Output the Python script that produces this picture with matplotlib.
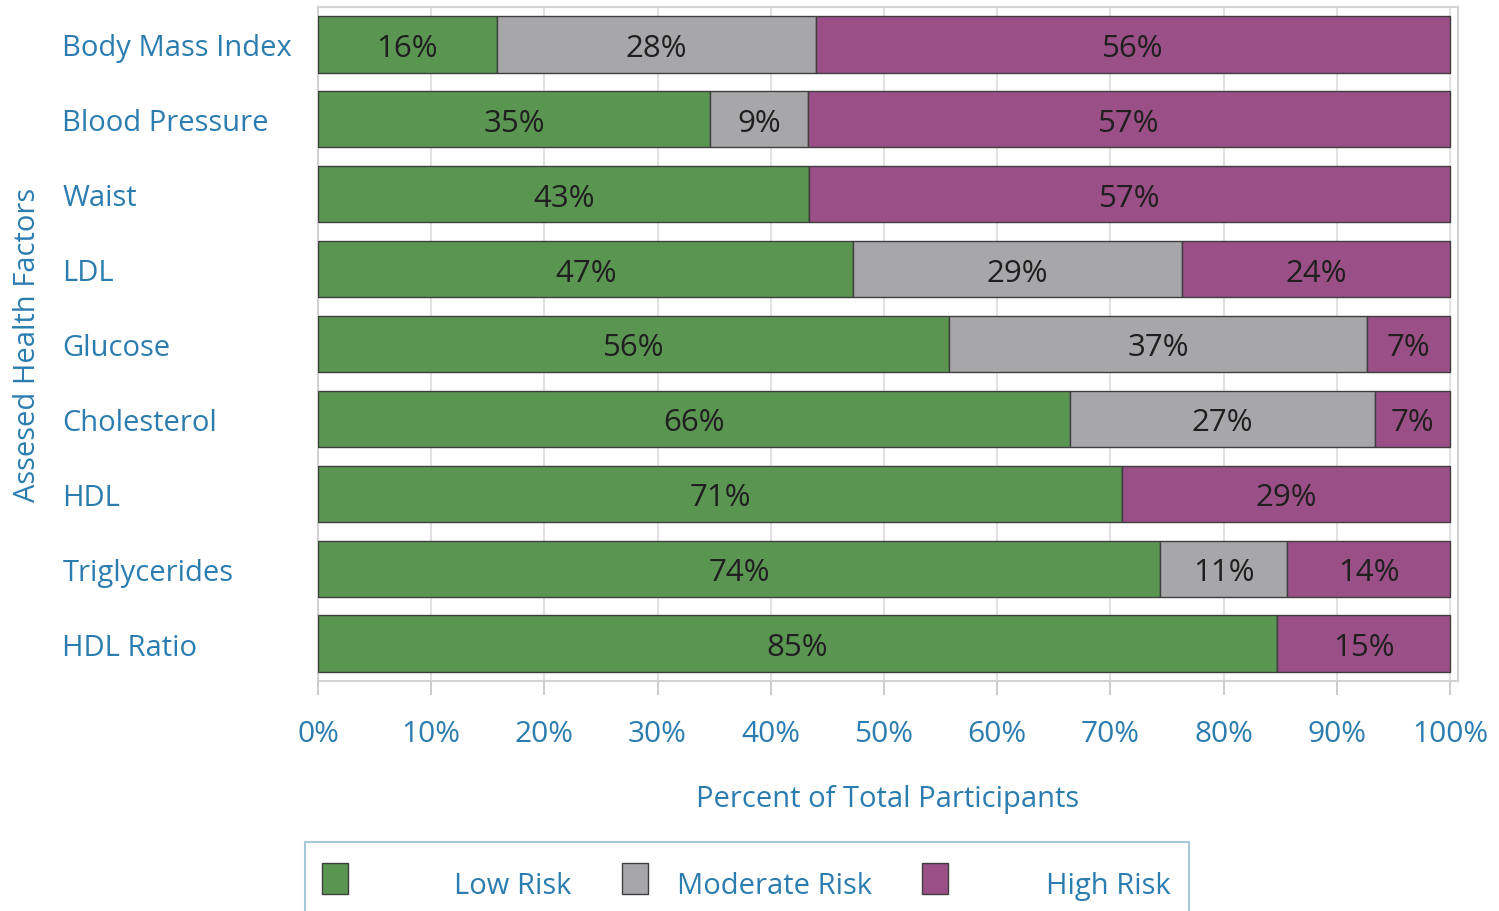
import matplotlib
matplotlib.use("Agg")
import matplotlib.pyplot as plt
from matplotlib.patches import Rectangle
import numpy as np

plt.rcParams['font.family'] = ['Open Sans', 'DejaVu Sans']

factors = ["Body Mass Index", "Blood Pressure", "Waist", "LDL", "Glucose",
           "Cholesterol", "HDL", "Triglycerides", "HDL Ratio"]
low_risk = [15.8, 34.6, 43.4, 47.3, 55.7, 66.4, 71.0, 74.4, 84.7]
moderate_risk = [28.2, 8.7, 0.0, 29.0, 37.0, 27.0, 0.0, 11.2, 0.0]
high_risk = [56.0, 56.7, 56.6, 23.7, 7.3, 6.6, 29.0, 14.4, 15.3]
series_names = ["Low Risk", "Moderate Risk", "High Risk"]
colors = ["#5b9552", "#a7a7a9", "#9a4f86"]
xticks = [0, 10, 20, 30, 40, 50, 60, 70, 80, 90, 100]
xticklabels = [f"{t}%" for t in xticks]

TEXT_BLUE = "#2b7db0"
FS = 21

W, H = 1499, 912
fig = plt.figure(figsize=(W / 100, H / 100), dpi=100)
ax = fig.add_axes([318 / W, 1 - 682 / H, (1458 - 318) / W, (682 - 8) / H])

y = np.arange(len(factors))
left = np.zeros(len(factors))
for vals, col in zip([low_risk, moderate_risk, high_risk], colors):
    vals = np.array(vals)
    bars = ax.barh(y, vals, left=left, height=0.75, color=col,
                   edgecolor="#3f3f3f", linewidth=1.0, zorder=3)
    for b, v in zip(bars, vals):
        if v > 0:
            ax.text(b.get_x() + b.get_width() / 2, b.get_y() + b.get_height() / 2,
                    f"{int(round(v))}%", ha="center", va="center_baseline",
                    fontsize=22.5, color="#1f1f1f", zorder=4)
    left = left + vals

ax.set_ylim(len(factors) - 0.5, -0.5)
ax.set_xlim(0, 100.7)
ax.set_xticks(xticks)
ax.set_xticklabels(xticklabels, fontsize=21.5, color=TEXT_BLUE)
ax.set_yticks(y)
ax.set_yticklabels(factors, fontsize=FS, color=TEXT_BLUE, ha="left",
                   va="center_baseline")
ax.tick_params(axis="y", length=0, pad=184)
ax.tick_params(axis="x", length=10, color="#c4c4c4", width=1.2, pad=17)
ax.xaxis.grid(True, color="#dcdcdc", linewidth=1.2, zorder=0)
ax.set_axisbelow(True)
for s in ax.spines.values():
    s.set_color("#d2d2d2")
    s.set_linewidth(1.5)

ax.set_xlabel("Percent of Total Participants", fontsize=FS, color=TEXT_BLUE)
ax.xaxis.set_label_coords(0.5, (682 - 799) / 674, transform=ax.transAxes)
ax.xaxis.label.set_va("center")
ax.set_ylabel("Assesed Health Factors", fontsize=FS, color=TEXT_BLUE)
ax.yaxis.set_label_coords((28 - 318) / 1140, (682 - 345) / 674)
ax.yaxis.label.set_va("center")

# legend frame
def fx(px):
    return px / W

def fy(py):
    return 1 - py / H

fig.add_artist(Rectangle((fx(305), fy(930)), fx(1189) - fx(305), fy(843) - fy(930),
                         transform=fig.transFigure, facecolor="white",
                         edgecolor="#a8c8dc", linewidth=1.5))
handle_x = [322, 622, 922]
text_pos = [(571, "right"), (677, "left"), (1171, "right")]
for hx, (tx, ha), col, name in zip(handle_x, text_pos, colors, series_names):
    fig.add_artist(Rectangle((fx(hx), fy(895)), fx(26), fy(864) - fy(895),
                             transform=fig.transFigure, facecolor=col,
                             edgecolor="#3f3f3f", linewidth=1.0))
    fig.text(fx(tx), fy(883), name, ha=ha, va="center_baseline", fontsize=FS,
             color=TEXT_BLUE)

fig.savefig("out.png", dpi=100)
